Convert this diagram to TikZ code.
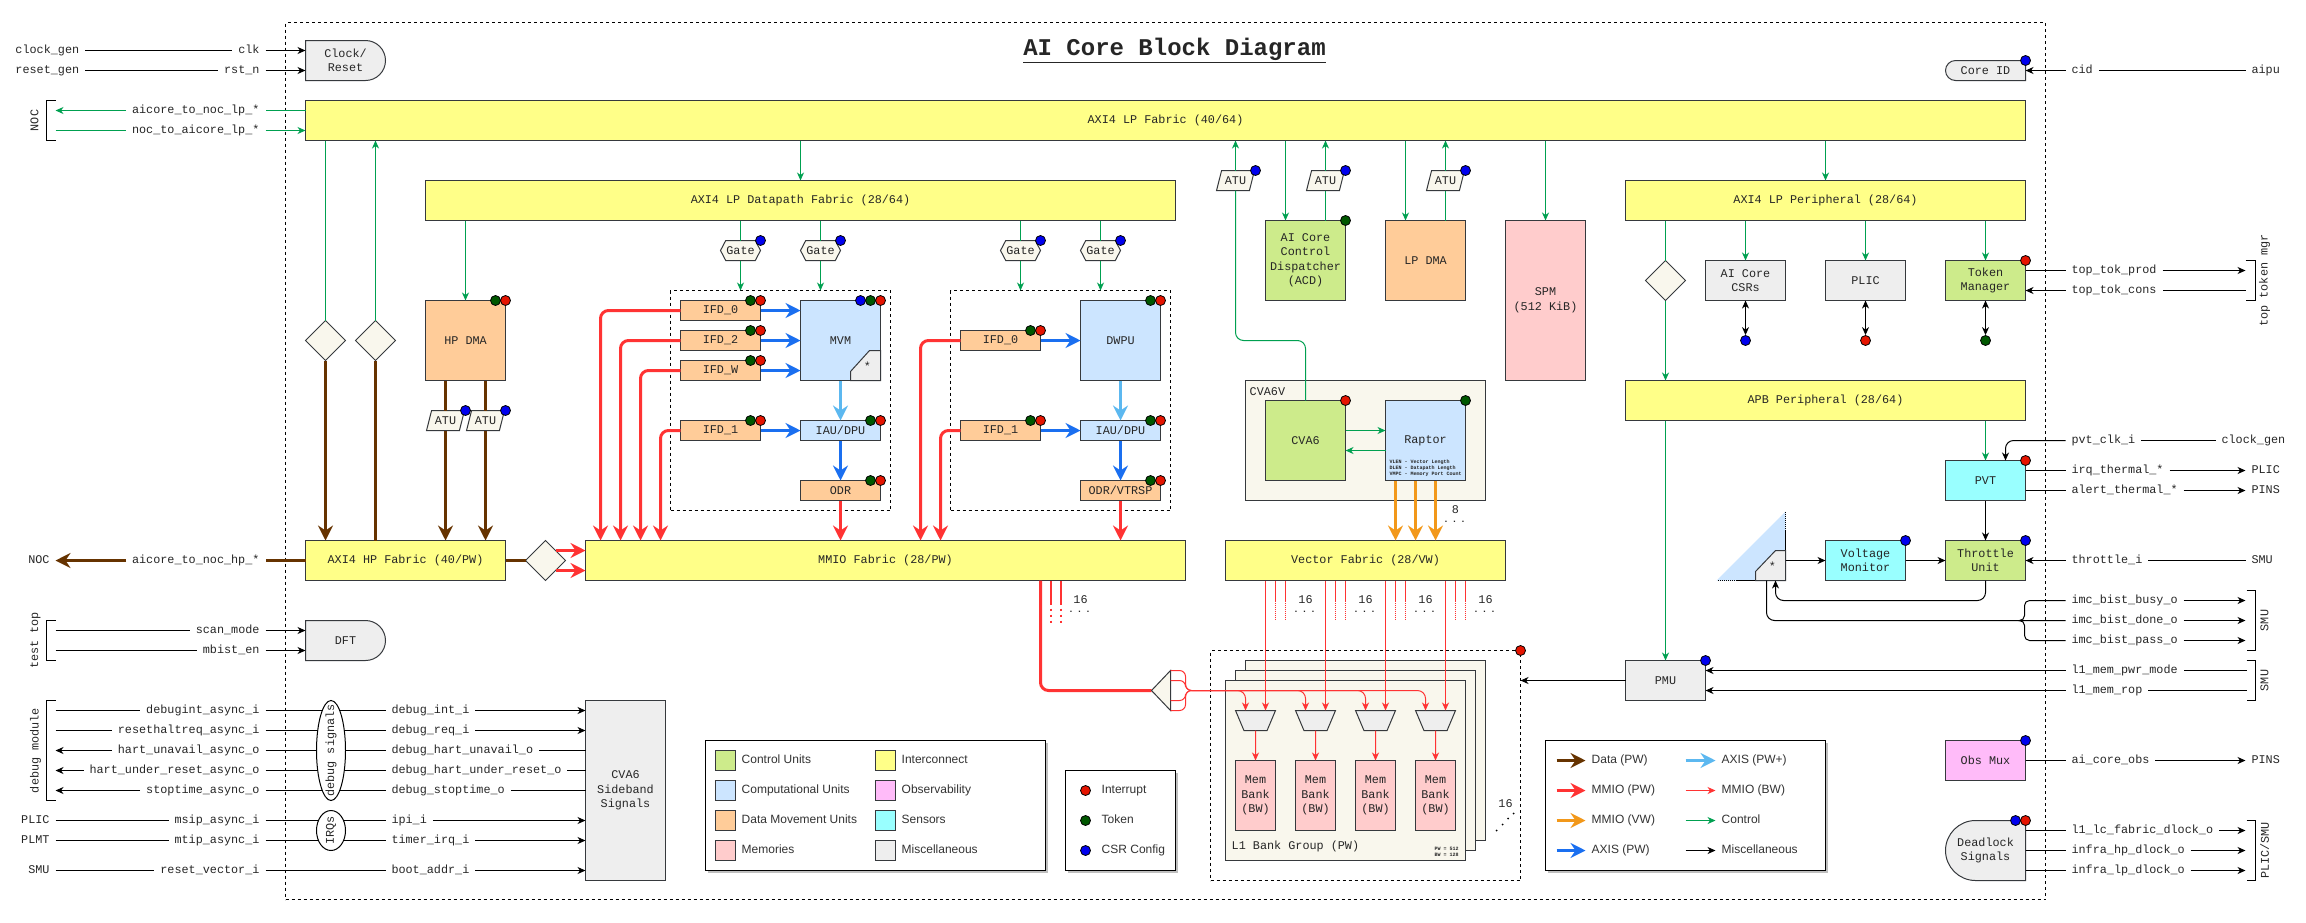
\documentclass[tikz,border=0pt]{standalone}
\usepackage{fontspec}
\setmonofont{Liberation Mono}
\setsansfont{Liberation Sans}
\usetikzlibrary{arrows.meta,shapes.geometric,shapes.misc,shapes.symbols,shadows}
\definecolor{edge}{HTML}{36393D}
\definecolor{ctrlfill}{HTML}{CDEB8B}
\definecolor{compfill}{HTML}{CCE5FF}
\definecolor{movefill}{HTML}{FFCC99}
\definecolor{memofill}{HTML}{FFCCCC}
\definecolor{fabfill}{HTML}{FFFF88}
\definecolor{sensfill}{HTML}{99FFFF}
\definecolor{obsfill}{HTML}{FFBBF9}
\definecolor{miscfill}{HTML}{EEEEEE}
\definecolor{creamfill}{HTML}{F9F7ED}
\definecolor{ctlgreen}{HTML}{00A050}
\definecolor{mmiored}{HTML}{FF3333}
\definecolor{axisblue}{HTML}{1A6FF0}
\definecolor{axislight}{HTML}{5CB8F0}
\definecolor{vworange}{HTML}{F2981A}
\definecolor{databrown}{HTML}{663300}
\definecolor{dotred}{HTML}{E51400}
\definecolor{dotgreen}{HTML}{005700}
\definecolor{dotblue}{HTML}{0000EE}
\newcommand{\monotext}{\ttfamily\fontsize{11.8}{14.5}\selectfont}
\newcommand{\keytext}{\sffamily\fontsize{12}{14}\selectfont}
\tikzset{
  every node/.append style={text=black!85},
  wh/.style 2 args={minimum width=#1,minimum height=#2},
  blk/.style={draw=edge,line width=1pt,inner sep=0pt,outer sep=0pt,align=center,font=\monotext,anchor=north west},
  fabric/.style={blk,fill=fabfill},
  ctrl/.style={blk,fill=ctrlfill},
  comp/.style={blk,fill=compfill},
  move/.style={blk,fill=movefill},
  memo/.style={blk,fill=memofill},
  sens/.style={blk,fill=sensfill},
  obsv/.style={blk,fill=obsfill},
  misc/.style={blk,fill=miscfill},
  cream/.style={blk,fill=creamfill},
  bare/.style={blk,draw=none},
  delay/.style={draw=edge,line width=1pt,fill=miscfill},
  group/.style={draw=black,line width=1pt,dash pattern=on 3pt off 3pt,anchor=north west,inner sep=0pt,outer sep=0pt},
  junction/.style={diamond,aspect=1,draw=edge,line width=1pt,fill=creamfill,inner sep=0pt,outer sep=0pt,minimum width=40,minimum height=40},
  gate/.style={signal,signal to=west and east,signal pointer angle=125,draw=edge,line width=1pt,fill=creamfill,inner sep=0pt,outer sep=0pt,minimum width=40,minimum height=20,font=\monotext},
  atu/.style={trapezium,trapezium left angle=64,trapezium right angle=116,trapezium stretches=true,draw=edge,line width=1pt,fill=creamfill,inner sep=0pt,outer sep=0pt,minimum width=38,minimum height=20,font=\monotext},
  mux/.style={trapezium,shape border rotate=180,trapezium left angle=64,trapezium right angle=64,trapezium stretches=true,draw=edge,line width=1pt,fill=miscfill,inner sep=0pt,outer sep=0pt,minimum width=40,minimum height=20},
  oval/.style={ellipse,draw=black,line width=1pt,fill=white,inner sep=0pt,minimum width=29},
  rdot/.style={circle,draw=black,line width=0.8pt,fill=dotred,inner sep=0pt,minimum size=10},
  gdot/.style={circle,draw=black,line width=0.8pt,fill=dotgreen,inner sep=0pt,minimum size=10},
  bdot/.style={circle,draw=black,line width=0.8pt,fill=dotblue,inner sep=0pt,minimum size=10},
  sig/.style={font=\monotext,inner xsep=6pt,inner ysep=0pt,outer sep=0pt,text height=8pt,text depth=2.5pt},
  sigl/.style={sig,anchor=west},
  sigr/.style={sig,anchor=east},
  side/.style={font=\monotext,rotate=90,inner sep=0pt},
  count/.style={font=\monotext,inner sep=0pt},
  more/.style={font=\ttfamily\bfseries\fontsize{9}{9}\selectfont\addfontfeature{LetterSpace=35},inner sep=0pt,text height=1pt,text depth=0pt},
  wire/.style={draw=black,line width=1pt},
  ctl/.style={draw=ctlgreen,line width=1pt,->},
  thinred/.style={draw=mmiored,line width=1pt,->},
  bigtip/.style={-{Stealth[length=15pt,width=15pt,inset=5pt]}},
  data/.style={draw=databrown,line width=3pt,bigtip},
  pw/.style={draw=mmiored,line width=3pt,bigtip},
  vw/.style={draw=vworange,line width=3pt,bigtip},
  axis/.style={draw=axisblue,line width=3pt,bigtip},
  axisp/.style={draw=axislight,line width=3pt,bigtip},
  legendbox/.style={draw=black,line width=1pt,fill=white,anchor=north west,inner sep=0pt,outer sep=0pt,general shadow={shadow xshift=2pt,shadow yshift=-2pt,fill=black!25}},
  swatch/.style={blk,minimum width=20,minimum height=20},
  keyname/.style={font=\keytext,text=black!80,anchor=west,inner ysep=0pt,inner xsep=0pt,text height=9pt,text depth=2.5pt},
  keyline/.style={keyname,inner xsep=6pt},
  bracket/.style={draw=black,line width=1pt}
}
\begin{document}
\begin{tikzpicture}[x=1pt,y=-1pt,>={Stealth[length=8pt,width=7pt,inset=2.5pt]}]
\useasboundingbox (-0.5,-0.5) rectangle (2305.5,921.5);
\node[group,wh={1760}{877}] (core) at (285,22) {};
\node[font=\ttfamily\bfseries\fontsize{24}{28}\selectfont,inner sep=0pt] (title) at (1174,50) {\underline{AI Core Block Diagram}};

\node[group,wh={220}{220}] (mvmgroup) at (670,290) {};
\node[group,wh={220}{220}] (dwpugroup) at (950,290) {};
\node[group,wh={310}{230}] (l1group) at (1210,650) {};

\draw[delay] (305,40) [rounded corners=20] -- (385,40) -- (385,80) [sharp corners] -- (305,80) -- cycle;
\node[bare,wh={80}{40}] (clockreset) at (305,40) {Clock/\\Reset};
\draw[delay] (305,620) [rounded corners=20] -- (385,620) -- (385,660) [sharp corners] -- (305,660) -- cycle;
\node[bare,wh={80}{40}] (dft) at (305,620) {DFT};
\draw[delay] (2025,60) [rounded corners=10] -- (1945,60) -- (1945,80) [sharp corners] -- (2025,80) -- cycle;
\node[bare,wh={80}{20}] (coreid) at (1945,60) {Core ID};
\draw[delay] (2025,820) [rounded corners=30] -- (1945,820) -- (1945,880) [sharp corners] -- (2025,880) -- cycle;
\node[bare,wh={80}{60}] (deadlock) at (1945,820) {Deadlock\\Signals};
\node[obsv,wh={80}{40}] (obsmux) at (1945,740) {Obs Mux};
\node[misc,wh={80}{180}] (sideband) at (585,700) {CVA6\\Sideband\\Signals};

\node[fabric,wh={1720}{40}] (lpfabric) at (305,100) {AXI4 LP Fabric (40/64)};
\node[fabric,wh={750}{40}] (dpfabric) at (425,180) {AXI4 LP Datapath Fabric (28/64)};
\node[fabric,wh={400}{40}] (perfabric) at (1625,180) {AXI4 LP Peripheral (28/64)};
\node[fabric,wh={400}{40}] (apbfabric) at (1625,380) {APB Peripheral (28/64)};
\node[fabric,wh={200}{40}] (hpfabric) at (305,540) {AXI4 HP Fabric (40/PW)};
\node[fabric,wh={600}{40}] (mmiofabric) at (585,540) {MMIO Fabric (28/PW)};
\node[fabric,wh={280}{40}] (vecfabric) at (1225,540) {Vector Fabric (28/VW)};

\draw[ctl] (lpfabric.south-|dpfabric.south) -- (dpfabric.north);
\draw[ctl] (lpfabric.south-|perfabric.south) -- (perfabric.north);

\node[junction] (brjunca) at (325,340) {};
\node[junction] (brjuncb) at (375,340) {};
\node[junction] (hpjunc) at (545,560) {};
\node[junction] (perjunc) at (1665,280) {};
\draw[ctl,-] (lpfabric.south-|brjunca) -- (brjunca.north);
\draw[ctl] (brjuncb.north) -- (lpfabric.south-|brjuncb);
\draw[data] (brjunca.south) -- (brjunca.south|-hpfabric.north);
\draw[data,-] (brjuncb.south|-hpfabric.north) -- (brjuncb.south);
\draw[data,-] (hpfabric.east) -- (hpjunc.west);
\coordinate (hpouta) at (555,550);
\coordinate (hpoutb) at (555,570);
\draw[pw] (hpouta) -- (hpouta-|mmiofabric.west);
\draw[pw] (hpoutb) -- (hpoutb-|mmiofabric.west);

\node[move,wh={80}{80}] (hpdma) at (425,300) {HP DMA};
\node[gdot] (hpdmag) at (495,300) {};
\node[rdot] (hpdmar) at (505,300) {};
\draw[ctl] (hpdma.north|-dpfabric.south) -- (hpdma.north);
\node[atu] (hpatua) at (445,420) {ATU};
\node[atu] (hpatub) at (485,420) {ATU};
\node[bdot] (hpatuad) at (465,410) {};
\node[bdot] (hpatubd) at (505,410) {};
\draw[data,-] (hpatua.north|-hpdma.south) -- (hpatua.north);
\draw[data,-] (hpatub.north|-hpdma.south) -- (hpatub.north);
\draw[data] (hpatua.south) -- (hpatua.south|-hpfabric.north);
\draw[data] (hpatub.south) -- (hpatub.south|-hpfabric.north);

\node[gate] (gatea) at (740,250) {Gate};
\node[gate] (gateb) at (820,250) {Gate};
\node[gate] (gatec) at (1020,250) {Gate};
\node[gate] (gated) at (1100,250) {Gate};
\node[bdot] (gatead) at (760,240) {};
\node[bdot] (gatebd) at (840,240) {};
\node[bdot] (gatecd) at (1040,240) {};
\node[bdot] (gatedd) at (1120,240) {};
\draw[ctl,-] (gatea.north|-dpfabric.south) -- (gatea.north);
\draw[ctl,-] (gateb.north|-dpfabric.south) -- (gateb.north);
\draw[ctl,-] (gatec.north|-dpfabric.south) -- (gatec.north);
\draw[ctl,-] (gated.north|-dpfabric.south) -- (gated.north);
\draw[ctl] (gatea.south) -- (gatea.south|-mvmgroup.north);
\draw[ctl] (gateb.south) -- (gateb.south|-mvmgroup.north);
\draw[ctl] (gatec.south) -- (gatec.south|-dwpugroup.north);
\draw[ctl] (gated.south) -- (gated.south|-dwpugroup.north);

\node[move,wh={80}{20}] (ifdza) at (680,300) {IFD\_0};
\node[move,wh={80}{20}] (ifdta) at (680,330) {IFD\_2};
\node[move,wh={80}{20}] (ifdwa) at (680,360) {IFD\_W};
\node[move,wh={80}{20}] (ifdoa) at (680,420) {IFD\_1};
\node[comp,wh={80}{80}] (mvm) at (800,300) {MVM};
\draw[draw=edge,line width=1pt,fill=miscfill] (880,350) -- (869,350) -- (850,371) -- (850,380) -- (880,380) -- cycle;
\node[count] (mvmstar) at (867,366) {*};
\node[comp,wh={80}{20}] (iaua) at (800,420) {IAU/DPU};
\node[move,wh={80}{20}] (odra) at (800,480) {ODR};
\node[move,wh={80}{20}] (ifdzb) at (960,330) {IFD\_0};
\node[move,wh={80}{20}] (ifdob) at (960,420) {IFD\_1};
\node[comp,wh={80}{80}] (dwpu) at (1080,300) {DWPU};
\node[comp,wh={80}{20}] (iaub) at (1080,420) {IAU/DPU};
\node[move,wh={80}{20}] (odrb) at (1080,480) {ODR/VTRSP};

\node[gdot] (ifdzag) at (750,300) {};
\node[rdot] (ifdzar) at (760,300) {};
\node[gdot] (ifdtag) at (750,330) {};
\node[rdot] (ifdtar) at (760,330) {};
\node[gdot] (ifdwag) at (750,360) {};
\node[rdot] (ifdwar) at (760,360) {};
\node[gdot] (ifdoag) at (750,420) {};
\node[rdot] (ifdoar) at (760,420) {};
\node[bdot] (mvmb) at (860,300) {};
\node[gdot] (mvmg) at (870,300) {};
\node[rdot] (mvmr) at (880,300) {};
\node[gdot] (iauag) at (870,420) {};
\node[rdot] (iauar) at (880,420) {};
\node[gdot] (odrag) at (870,480) {};
\node[rdot] (odrar) at (880,480) {};
\node[gdot] (ifdzbg) at (1030,330) {};
\node[rdot] (ifdzbr) at (1040,330) {};
\node[gdot] (ifdobg) at (1030,420) {};
\node[rdot] (ifdobr) at (1040,420) {};
\node[gdot] (dwpug) at (1150,300) {};
\node[rdot] (dwpur) at (1160,300) {};
\node[gdot] (iaubg) at (1150,420) {};
\node[rdot] (iaubr) at (1160,420) {};
\node[gdot] (odrbg) at (1150,480) {};
\node[rdot] (odrbr) at (1160,480) {};

\draw[axis] (ifdza.east) -- (ifdza.east-|mvm.west);
\draw[axis] (ifdta.east) -- (ifdta.east-|mvm.west);
\draw[axis] (ifdwa.east) -- (ifdwa.east-|mvm.west);
\draw[axis] (ifdoa.east) -- (iaua.west);
\draw[axisp] (mvm.south) -- (iaua.north);
\draw[axis] (iaua.south) -- (odra.north);
\draw[pw] (odra.south) -- (odra.south|-mmiofabric.north);
\draw[axis] (ifdzb.east) -- (ifdzb.east-|dwpu.west);
\draw[axis] (ifdob.east) -- (iaub.west);
\draw[axisp] (dwpu.south) -- (iaub.north);
\draw[axis] (iaub.south) -- (odrb.north);
\draw[pw] (odrb.south) -- (odrb.south|-mmiofabric.north);

\coordinate (mmioa) at (600,540);
\coordinate (mmiob) at (620,540);
\coordinate (mmioc) at (640,540);
\coordinate (mmiod) at (660,540);
\coordinate (mmioe) at (920,540);
\coordinate (mmiof) at (940,540);
\draw[pw,rounded corners=8] (ifdza.west) -| (mmioa);
\draw[pw,rounded corners=8] (ifdta.west) -| (mmiob);
\draw[pw,rounded corners=8] (ifdwa.west) -| (mmioc);
\draw[pw,rounded corners=8] (ifdoa.west) -| (mmiod);
\draw[pw,rounded corners=8] (ifdzb.west) -| (mmioe);
\draw[pw,rounded corners=8] (ifdob.west) -| (mmiof);

\node[ctrl,wh={80}{80}] (acd) at (1265,220) {AI Core\\Control\\Dispatcher\\(ACD)};
\node[gdot] (acdg) at (1345,220) {};
\node[move,wh={80}{80}] (lpdma) at (1385,220) {LP DMA};
\node[memo,wh={80}{160}] (spm) at (1505,220) {SPM\\(512 KiB)};
\node[atu] (atua) at (1235,180) {ATU};
\node[atu] (atub) at (1325,180) {ATU};
\node[atu] (atuc) at (1445,180) {ATU};
\node[bdot] (atuad) at (1255,170) {};
\node[bdot] (atubd) at (1345,170) {};
\node[bdot] (atucd) at (1465,170) {};
\coordinate (acdin) at (1285,220);
\coordinate (lpdmain) at (1405,220);
\draw[ctl] (acdin|-lpfabric.south) -- (acdin);
\draw[ctl,-] (atub.south|-acd.north) -- (atub.south);
\draw[ctl] (atub.north) -- (atub.north|-lpfabric.south);
\draw[ctl] (lpdmain|-lpfabric.south) -- (lpdmain);
\draw[ctl,-] (atuc.south|-lpdma.north) -- (atuc.south);
\draw[ctl] (atuc.north) -- (atuc.north|-lpfabric.south);
\draw[ctl] (spm.north|-lpfabric.south) -- (spm.north);
\draw[ctl] (atua.north) -- (atua.north|-lpfabric.south);

\node[cream,wh={240}{120}] (cvavgroup) at (1245,380) {};
\node[font=\monotext,anchor=west,inner sep=0pt] (cvavname) at (1249,391) {CVA6V};
\node[ctrl,wh={80}{80}] (cva) at (1265,400) {CVA6};
\node[comp,wh={80}{80}] (raptor) at (1385,400) {Raptor};
\node[anchor=west,align=left,inner sep=0pt,font=\ttfamily\bfseries\fontsize{5}{6}\selectfont] (raptornote) at (1389,468) {VLEN - Vector Length\\DLEN - Datapath Length\\VMPC - Memory Port Count};
\node[rdot] (cvar) at (1345,400) {};
\node[gdot] (raptorg) at (1465,400) {};
\coordinate (cvaout) at (1345,430);
\coordinate (cvain) at (1345,450);
\draw[ctl] (cvaout) -- (cvaout-|raptor.west);
\draw[ctl] (cvain-|raptor.west) -- (cvain);
\coordinate (cvaturn) at (1305,340);
\draw[draw=ctlgreen,line width=1pt,rounded corners=8] (cvaturn|-cva.north) -- (cvaturn) -- (cvaturn-|atua.south) -- (atua.south);
\coordinate (vecina) at (1395,540);
\coordinate (vecinb) at (1415,540);
\coordinate (vecinc) at (1435,540);
\draw[vw] (vecina|-raptor.south) -- (vecina);
\draw[vw] (vecinb|-raptor.south) -- (vecinb);
\draw[vw] (vecinc|-raptor.south) -- (vecinc);
\node[count] (veccount) at (1455,509) {8};
\node[more] (vecmore) at (1454,521) {...};

\node[misc,wh={80}{40}] (csrs) at (1705,260) {AI Core\\CSRs};
\node[misc,wh={80}{40}] (plic) at (1825,260) {PLIC};
\node[ctrl,wh={80}{40}] (token) at (1945,260) {Token\\Manager};
\node[rdot] (tokenr) at (2025,260) {};
\node[bdot] (csrsd) at (1745,340) {};
\node[rdot] (plicd) at (1865,340) {};
\node[gdot] (tokend) at (1985,340) {};
\draw[ctl] (csrs.north|-perfabric.south) -- (csrs.north);
\draw[ctl] (plic.north|-perfabric.south) -- (plic.north);
\draw[ctl] (token.north|-perfabric.south) -- (token.north);
\draw[wire,<->] (csrs.south) -- (csrsd.north);
\draw[wire,<->] (plic.south) -- (plicd.north);
\draw[wire,<->] (token.south) -- (tokend.north);
\draw[ctl,-] (perjunc.north|-perfabric.south) -- (perjunc.north);
\draw[ctl] (perjunc.south) -- (perjunc.south|-apbfabric.north);

\node[sens,wh={80}{40}] (pvt) at (1945,460) {PVT};
\node[rdot] (pvtr) at (2025,460) {};
\node[sens,wh={80}{40}] (voltmon) at (1825,540) {Voltage\\Monitor};
\node[bdot] (voltmonb) at (1905,540) {};
\node[ctrl,wh={80}{40}] (throttle) at (1945,540) {Throttle\\Unit};
\node[bdot] (throttleb) at (2025,540) {};
\draw[ctl] (pvt.north|-apbfabric.south) -- (pvt.north);
\draw[wire,->] (pvt.south) -- (throttle.north);
\draw[wire,->] (voltmon.east) -- (throttle.west);
\fill[compfill] (1716,580) -- (1785,511) -- (1785,580) -- cycle;
\draw[wire] (1785,530) -- (1785,580) -- (1736,580);
\draw[wire,densely dotted] (1785,530) -- (1785,511);
\draw[wire,densely dotted] (1736,580) -- (1716,580);
\draw[draw=edge,line width=1pt,fill=miscfill] (1785,550) -- (1775,550) -- (1755,571) -- (1755,580) -- (1785,580) -- cycle;
\node[count] (vstar) at (1772,566) {*};
\coordinate (vout) at (1785,560);
\draw[wire,->] (vout) -- (vout-|voltmon.west);
\coordinate (vfb) at (1775,580);
\coordinate (vfbturn) at (1775,600);
\draw[wire,->,rounded corners=8] (throttle.south) |- (vfbturn) -- (vfb);

\node[misc,wh={80}{40}] (pmu) at (1625,660) {PMU};
\node[bdot] (pmub) at (1705,660) {};
\draw[ctl] (perjunc.south|-apbfabric.south) -- (perjunc.south|-pmu.north);
\draw[wire,->] (pmu.west) -- (pmu.west-|l1group.east);

\node[cream,wh={240}{180}] (bankc) at (1245,660) {};
\node[cream,wh={240}{180}] (bankb) at (1235,670) {};
\node[cream,wh={240}{180}] (banka) at (1225,680) {};
\node[rdot] (l1r) at (1520,650) {};
\node[font=\monotext,anchor=west,inner sep=0pt] (bankname) at (1231,846) {L1 Bank Group (PW)};
\node[anchor=west,align=left,inner sep=0pt,font=\ttfamily\bfseries\fontsize{5}{5.8}\selectfont] (banknote) at (1434,851) {PW = 512\\BW = 128};
\node[count] (bankcount) at (1505,803) {16};
\fill (1496,830) circle (1);
\fill (1502,824) circle (1);
\fill (1507.5,818) circle (1);
\fill (1513,813) circle (1);

\node[mux] (muxa) at (1255,720) {\phantom{M}};
\node[mux] (muxb) at (1315,720) {\phantom{M}};
\node[mux] (muxc) at (1375,720) {\phantom{M}};
\node[mux] (muxd) at (1435,720) {\phantom{M}};
\node[memo,wh={40}{70}] (mema) at (1235,760) {Mem\\Bank\\(BW)};
\node[memo,wh={40}{70}] (memb) at (1295,760) {Mem\\Bank\\(BW)};
\node[memo,wh={40}{70}] (memc) at (1355,760) {Mem\\Bank\\(BW)};
\node[memo,wh={40}{70}] (memd) at (1415,760) {Mem\\Bank\\(BW)};
\draw[thinred] (muxa.south) -- (mema.north);
\draw[thinred] (muxb.south) -- (memb.north);
\draw[thinred] (muxc.south) -- (memc.north);
\draw[thinred] (muxd.south) -- (memd.north);

\coordinate (inaa) at (1245,710);
\coordinate (inab) at (1265,710);
\coordinate (inba) at (1305,710);
\coordinate (inbb) at (1325,710);
\coordinate (inca) at (1365,710);
\coordinate (incb) at (1385,710);
\coordinate (inda) at (1425,710);
\coordinate (indb) at (1445,710);
\draw[thinred] (inab|-vecfabric.south) -- (inab);
\draw[thinred] (inbb|-vecfabric.south) -- (inbb);
\draw[thinred] (incb|-vecfabric.south) -- (incb);
\draw[thinred] (indb|-vecfabric.south) -- (indb);

\foreach \x in {1275,1285,1335,1345,1395,1405,1455,1465}{
  \coordinate (stub\x) at (\x,600);
  \draw[draw=mmiored,line width=1pt] (stub\x|-vecfabric.south) -- (stub\x);
  \draw[draw=mmiored,line width=1pt,densely dotted] (stub\x) -- ++(0,20);
}
\foreach \x in {1050,1060}{
  \coordinate (stub\x) at (\x,602);
  \draw[draw=mmiored,line width=2pt] (stub\x|-mmiofabric.south) -- (stub\x);
  \draw[draw=mmiored,line width=2pt,dash pattern=on 2pt off 4pt] (stub\x) -- ++(0,20);
}
\node[count] (mmiocount) at (1080,599) {16};
\node[more] (mmiomore) at (1079,611) {...};
\node[count] (vcounta) at (1305,599) {16};
\node[more] (vmorea) at (1304,611) {...};
\node[count] (vcountb) at (1365,599) {16};
\node[more] (vmoreb) at (1364,611) {...};
\node[count] (vcountc) at (1425,599) {16};
\node[more] (vmorec) at (1424,611) {...};
\node[count] (vcountd) at (1485,599) {16};
\node[more] (vmored) at (1484,611) {...};

\coordinate (demuxtip) at (1151,690);
\coordinate (demuxa) at (1170,670);
\coordinate (demuxb) at (1170,680);
\coordinate (demuxc) at (1170,700);
\coordinate (demuxd) at (1170,710);
\coordinate (demuxturn) at (1185,690);
\coordinate (demuxout) at (1192,690);
\coordinate (mmiodown) at (1040,580);
\draw[draw=mmiored,line width=3pt,rounded corners=8] (mmiodown) |- (demuxtip);
\draw[draw=edge,line width=1pt,fill=creamfill] (demuxtip) -- (demuxa) -- (demuxd) -- cycle;
\draw[draw=mmiored,line width=1pt,rounded corners=6] (demuxa) -| (demuxturn) -- (demuxout);
\draw[draw=mmiored,line width=1pt,rounded corners=6] (demuxb) -| (demuxturn) -- (demuxout);
\draw[draw=mmiored,line width=1pt,rounded corners=6] (demuxc) -| (demuxturn) -- (demuxout);
\draw[draw=mmiored,line width=1pt,rounded corners=6] (demuxd) -| (demuxturn) -- (demuxout);
\draw[thinred,rounded corners=8] (demuxout) -| (inaa);
\draw[thinred,rounded corners=8] (demuxout) -| (inba);
\draw[thinred,rounded corners=8] (demuxout) -| (inca);
\draw[thinred,rounded corners=8] (demuxout) -| (inda);

\node[sigl] (clockgen) at (9,50) {clock\_gen};
\node[sigl] (resetgen) at (9,70) {reset\_gen};
\node[sigr] (clk) at (265,50) {clk};
\node[sigr] (rstn) at (265,70) {rst\_n};
\draw[wire] (clockgen) -- (clk);
\draw[wire] (resetgen) -- (rstn);
\draw[wire,->] (clk) -- (clk-|clockreset.west);
\draw[wire,->] (rstn) -- (rstn-|clockreset.west);

\node[side] (noclp) at (34,120) {NOC};
\draw[bracket] (55,100) -- (46,100) -- (46,140) -- (55,140);
\coordinate (noclpa) at (55,110);
\coordinate (noclpb) at (55,130);
\node[sigr] (lpout) at (265,110) {aicore\_to\_noc\_lp\_*};
\node[sigr] (lpin) at (265,130) {noc\_to\_aicore\_lp\_*};
\draw[ctl] (lpout) -- (noclpa);
\draw[ctl,-] (noclpb) -- (lpin);
\draw[ctl,-] (lpout-|lpfabric.west) -- (lpout);
\draw[ctl] (lpin) -- (lpin-|lpfabric.west);

\node[sigr] (nochp) at (55,560) {NOC};
\node[sigr] (hpout) at (265,560) {aicore\_to\_noc\_hp\_*};
\draw[data] (hpout) -- (nochp);
\draw[data,-] (hpfabric.west) -- (hpout);

\node[side] (testtop) at (35,640) {test top};
\draw[bracket] (55,620) -- (46,620) -- (46,660) -- (55,660);
\coordinate (testa) at (55,630);
\coordinate (testb) at (55,650);
\node[sigr] (scanmode) at (265,630) {scan\_mode};
\node[sigr] (mbisten) at (265,650) {mbist\_en};
\draw[wire] (testa) -- (scanmode);
\draw[wire] (testb) -- (mbisten);
\draw[wire,->] (scanmode) -- (scanmode-|dft.west);
\draw[wire,->] (mbisten) -- (mbisten-|dft.west);

\node[side] (debugmod) at (35,750) {debug module};
\draw[bracket] (55,700) -- (46,700) -- (46,800) -- (55,800);
\coordinate (dbga) at (55,710);
\coordinate (dbgb) at (55,730);
\coordinate (dbgc) at (55,750);
\coordinate (dbgd) at (55,770);
\coordinate (dbge) at (55,790);
\node[sigr] (debugint) at (265,710) {debugint\_async\_i};
\node[sigr] (resethalt) at (265,730) {resethaltreq\_async\_i};
\node[sigr] (hartun) at (265,750) {hart\_unavail\_async\_o};
\node[sigr] (hartrst) at (265,770) {hart\_under\_reset\_async\_o};
\node[sigr] (stoptime) at (265,790) {stoptime\_async\_o};
\node[sigl] (dbgint) at (385,710) {debug\_int\_i};
\node[sigl] (dbgreq) at (385,730) {debug\_req\_i};
\node[sigl] (dbgun) at (385,750) {debug\_hart\_unavail\_o};
\node[sigl] (dbgrst) at (385,770) {debug\_hart\_under\_reset\_o};
\node[sigl] (dbgstop) at (385,790) {debug\_stoptime\_o};
\draw[wire] (dbga) -- (debugint);
\draw[wire] (dbgb) -- (resethalt);
\draw[wire,->] (hartun) -- (dbgc);
\draw[wire,->] (hartrst) -- (dbgd);
\draw[wire,->] (stoptime) -- (dbge);
\draw[wire] (debugint) -- (dbgint);
\draw[wire] (resethalt) -- (dbgreq);
\draw[wire] (hartun) -- (dbgun);
\draw[wire] (hartrst) -- (dbgrst);
\draw[wire] (stoptime) -- (dbgstop);
\draw[wire,->] (dbgint) -- (dbgint-|sideband.west);
\draw[wire,->] (dbgreq) -- (dbgreq-|sideband.west);
\draw[wire] (dbgun-|sideband.west) -- (dbgun);
\draw[wire] (dbgrst-|sideband.west) -- (dbgrst);
\draw[wire] (dbgstop-|sideband.west) -- (dbgstop);

\node[sigr] (plicin) at (55,820) {PLIC};
\node[sigr] (plmtin) at (55,840) {PLMT};
\node[sigr] (smuin) at (55,870) {SMU};
\node[sigr] (msip) at (265,820) {msip\_async\_i};
\node[sigr] (mtip) at (265,840) {mtip\_async\_i};
\node[sigr] (resetvec) at (265,870) {reset\_vector\_i};
\node[sigl] (ipi) at (385,820) {ipi\_i};
\node[sigl] (timerirq) at (385,840) {timer\_irq\_i};
\node[sigl] (bootaddr) at (385,870) {boot\_addr\_i};
\draw[wire] (plicin) -- (msip);
\draw[wire] (plmtin) -- (mtip);
\draw[wire] (smuin) -- (resetvec);
\draw[wire] (msip) -- (ipi);
\draw[wire] (mtip) -- (timerirq);
\draw[wire] (resetvec) -- (bootaddr);
\draw[wire,->] (ipi) -- (ipi-|sideband.west);
\draw[wire,->] (timerirq) -- (timerirq-|sideband.west);
\draw[wire,->] (bootaddr) -- (bootaddr-|sideband.west);
\node[oval,minimum height=100] (debugsig) at (330.5,750) {};
\node[side] (debugsigname) at (330.5,750) {debug signals};
\node[oval,minimum height=40] (irqs) at (330.5,830) {};
\node[side] (irqsname) at (330.5,830) {IRQs};

\node[sigl] (cid) at (2065,70) {cid};
\node[sigl] (aipu) at (2245,70) {aipu};
\draw[wire] (cid) -- (aipu);
\draw[wire,->] (cid) -- (cid-|coreid.east);
\node[bdot] (coreidb) at (2025,60) {};

\node[sigl] (tokprod) at (2065,270) {top\_tok\_prod};
\node[sigl] (tokcons) at (2065,290) {top\_tok\_cons};
\coordinate (tokouta) at (2245,270);
\coordinate (tokoutb) at (2245,290);
\draw[wire] (tokprod-|token.east) -- (tokprod);
\draw[wire,->] (tokprod) -- (tokouta);
\draw[wire,->] (tokcons) -- (tokcons-|token.east);
\draw[wire] (tokoutb) -- (tokcons);
\draw[bracket] (2245,260) -- (2255,260) -- (2255,300) -- (2245,300);
\node[side] (tokmgr) at (2264,280) {top token mgr};

\node[sigl] (pvtclk) at (2065,440) {pvt\_clk\_i};
\node[sigl] (clockgenb) at (2215,440) {clock\_gen};
\coordinate (pvtclkin) at (2005,460);
\draw[wire] (pvtclk) -- (clockgenb);
\draw[wire,->,rounded corners=8] (pvtclk.west) -| (pvtclkin);
\node[sigl] (irqth) at (2065,470) {irq\_thermal\_*};
\node[sigl] (alertth) at (2065,490) {alert\_thermal\_*};
\node[sigl] (plicout) at (2245,470) {PLIC};
\node[sigl] (pinsa) at (2245,490) {PINS};
\draw[wire] (irqth-|pvt.east) -- (irqth);
\draw[wire] (alertth-|pvt.east) -- (alertth);
\draw[wire,->] (irqth) -- (plicout);
\draw[wire,->] (alertth) -- (pinsa);
\node[sigl] (throttlei) at (2065,560) {throttle\_i};
\node[sigl] (smuthr) at (2245,560) {SMU};
\draw[wire] (smuthr) -- (throttlei);
\draw[wire,->] (throttlei) -- (throttlei-|throttle.east);

\node[sigl] (bistbusy) at (2065,600) {imc\_bist\_busy\_o};
\node[sigl] (bistdone) at (2065,620) {imc\_bist\_done\_o};
\node[sigl] (bistpass) at (2065,640) {imc\_bist\_pass\_o};
\coordinate (bistouta) at (2245,600);
\coordinate (bistoutb) at (2245,620);
\coordinate (bistoutc) at (2245,640);
\draw[wire,->] (bistbusy) -- (bistouta);
\draw[wire,->] (bistdone) -- (bistoutb);
\draw[wire,->] (bistpass) -- (bistoutc);
\coordinate (vbist) at (1766,580);
\coordinate (bistjoin) at (2024,620);
\coordinate (bistmerge) at (2018,620);
\draw[wire,rounded corners=8] (bistdone.west) -| (vbist);
\draw[wire,rounded corners=5] (bistbusy.west) -| (bistjoin) -- (bistmerge);
\draw[wire,rounded corners=5] (bistpass.west) -| (bistjoin) -- (bistmerge);
\draw[bracket] (2246,590) -- (2255,590) -- (2255,650) -- (2246,650);
\node[side] (smubist) at (2264,620) {SMU};

\node[sigl] (pwrmode) at (2065,670) {l1\_mem\_pwr\_mode};
\node[sigl] (memrop) at (2065,690) {l1\_mem\_rop};
\coordinate (pmuouta) at (2246,670);
\coordinate (pmuoutb) at (2246,690);
\draw[wire] (pmuouta) -- (pwrmode);
\draw[wire] (pmuoutb) -- (memrop);
\draw[wire,->] (pwrmode) -- (pwrmode-|pmu.east);
\draw[wire,->] (memrop) -- (memrop-|pmu.east);
\draw[bracket] (2246,660) -- (2255,660) -- (2255,700) -- (2246,700);
\node[side] (smupmu) at (2264,680) {SMU};

\node[bdot] (obsb) at (2025,740) {};
\node[sigl] (coreobs) at (2065,760) {ai\_core\_obs};
\node[sigl] (pinsb) at (2245,760) {PINS};
\draw[wire] (coreobs-|obsmux.east) -- (coreobs);
\draw[wire,->] (coreobs) -- (pinsb);

\node[bdot] (deadb) at (2015,820) {};
\node[rdot] (deadr) at (2025,820) {};
\node[sigl] (fabdlock) at (2065,830) {l1\_lc\_fabric\_dlock\_o};
\node[sigl] (hpdlock) at (2065,850) {infra\_hp\_dlock\_o};
\node[sigl] (lpdlock) at (2065,870) {infra\_lp\_dlock\_o};
\coordinate (dlocka) at (2245,830);
\coordinate (dlockb) at (2245,850);
\coordinate (dlockc) at (2245,870);
\draw[wire] (fabdlock-|deadlock.east) -- (fabdlock);
\draw[wire] (hpdlock-|deadlock.east) -- (hpdlock);
\draw[wire] (lpdlock-|deadlock.east) -- (lpdlock);
\draw[wire,->] (fabdlock) -- (dlocka);
\draw[wire,->] (hpdlock) -- (dlockb);
\draw[wire,->] (lpdlock) -- (dlockc);
\draw[bracket] (2246,820) -- (2255,820) -- (2255,880) -- (2246,880);
\node[side] (plicsmu) at (2264,850) {PLIC/SMU};

\node[legendbox,wh={340}{130}] (unitkey) at (705,740) {};
\node[swatch,fill=ctrlfill] (swctrl) at (715,750) {};
\node[swatch,fill=compfill] (swcomp) at (715,780) {};
\node[swatch,fill=movefill] (swmove) at (715,810) {};
\node[swatch,fill=memofill] (swmemo) at (715,840) {};
\node[swatch,fill=fabfill] (swfab) at (875,750) {};
\node[swatch,fill=obsfill] (swobs) at (875,780) {};
\node[swatch,fill=sensfill] (swsens) at (875,810) {};
\node[swatch,fill=miscfill] (swmisc) at (875,840) {};
\node[keyname] (nctrl) at (741,760) {Control Units};
\node[keyname] (ncomp) at (741,790) {Computational Units};
\node[keyname] (nmove) at (741,820) {Data Movement Units};
\node[keyname] (nmemo) at (741,850) {Memories};
\node[keyname] (nfab) at (901,760) {Interconnect};
\node[keyname] (nobs) at (901,790) {Observability};
\node[keyname] (nsens) at (901,820) {Sensors};
\node[keyname] (nmisc) at (901,850) {Miscellaneous};

\node[legendbox,wh={110}{100}] (dotkey) at (1065,770) {};
\node[rdot] (keyr) at (1085,790) {};
\node[gdot] (keyg) at (1085,820) {};
\node[bdot] (keyb) at (1085,850) {};
\node[keyname] (nint) at (1101,790) {Interrupt};
\node[keyname] (ntok) at (1101,820) {Token};
\node[keyname] (ncsr) at (1101,850) {CSR Config};

\node[legendbox,wh={280}{130}] (linekey) at (1545,740) {};
\coordinate (lka) at (1556,760);
\coordinate (lkb) at (1556,790);
\coordinate (lkc) at (1556,820);
\coordinate (lkd) at (1556,850);
\coordinate (lke) at (1685,760);
\coordinate (lkf) at (1685,790);
\coordinate (lkg) at (1685,820);
\coordinate (lkh) at (1685,850);
\node[keyline] (ndata) at (1585,760) {Data (PW)};
\node[keyline] (nmmpw) at (1585,790) {MMIO (PW)};
\node[keyline] (nmmvw) at (1585,820) {MMIO (VW)};
\node[keyline] (naxpw) at (1585,850) {AXIS (PW)};
\node[keyline] (naxpp) at (1715,760) {AXIS (PW+)};
\node[keyline] (nmmbw) at (1715,790) {MMIO (BW)};
\node[keyline] (nctl) at (1715,820) {Control};
\node[keyline] (nwire) at (1715,850) {Miscellaneous};
\draw[data] (lka) -- (ndata);
\draw[pw] (lkb) -- (nmmpw);
\draw[vw] (lkc) -- (nmmvw);
\draw[axis] (lkd) -- (naxpw);
\draw[axisp] (lke) -- (naxpp);
\draw[thinred] (lkf) -- (nmmbw);
\draw[ctl] (lkg) -- (nctl);
\draw[wire,->] (lkh) -- (nwire);
\end{tikzpicture}
\end{document}
